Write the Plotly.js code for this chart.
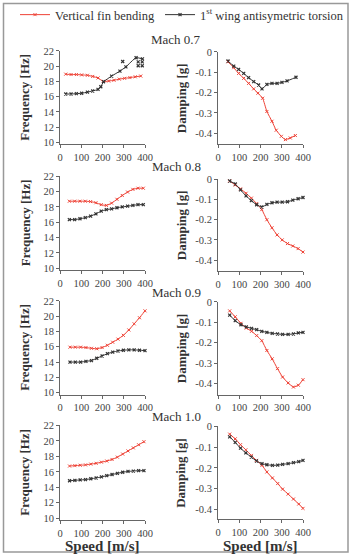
<!DOCTYPE html>
<html><head><meta charset="utf-8">
<script src="https://cdn.plot.ly/plotly-3.0.1.min.js"></script>
<style>html,body{margin:0;padding:0;background:#fff}#chart{width:351px;height:554px}</style>
</head><body><div id="chart"></div>
<script>
// ---- data ----
const machLabels = ["Mach 0.7", "Mach 0.8", "Mach 0.9", "Mach 1.0"];
const seriesNames = ["Vertical fin bending", "1<sup>st</sup> wing antisymetric torsion"];

// Mach 0.7
const m07_freq_fin_x = [27,52,77,102,129,154,179,204,229,254,279,304,329,354,380];
const m07_freq_fin_y = [18.95,18.9,18.9,18.85,18.8,18.65,18.45,18.0,18.05,18.15,18.3,18.4,18.5,18.6,18.7];
const m07_freq_wing_x = [27,52,77,102,129,154,179,192,205,243,282,310,358,388];
const m07_freq_wing_y = [16.35,16.35,16.4,16.45,16.6,16.75,16.95,17.3,17.95,18.7,19.35,19.9,21.1,20.95];
const m07_freq_wing_extra_x = [295,368,387,368,387];
const m07_freq_wing_extra_y = [20.6,20.55,20.55,20.05,20.05];
const m07_damp_fin_x = [47,74,97,121,144,168,188,210,230,254,274,298,317,340,364];
const m07_damp_fin_y = [-0.049,-0.078,-0.106,-0.13,-0.155,-0.182,-0.203,-0.228,-0.293,-0.341,-0.385,-0.415,-0.431,-0.423,-0.411];
const m07_damp_wing_x = [47,74,97,121,144,168,191,207,230,254,278,301,325,367];
const m07_damp_wing_y = [-0.045,-0.07,-0.086,-0.106,-0.127,-0.146,-0.163,-0.182,-0.16,-0.155,-0.155,-0.15,-0.143,-0.125];

// Mach 0.8
const m08_freq_x = [44,69,94,119,144,169,194,218,243,268,293,318,343,367,392];
const m08_freq_fin_y = [18.75,18.75,18.75,18.75,18.7,18.55,18.3,18.2,18.5,19.0,19.5,19.95,20.3,20.45,20.45];
const m08_freq_wing_y = [16.35,16.35,16.45,16.6,16.8,17.1,17.45,17.65,17.75,17.9,18.0,18.1,18.2,18.3,18.3];
const m08_damp_x = [55,81,106,132,157,182,206,230,254,278,302,327,352,377,400];
const m08_damp_fin_y = [-0.008,-0.028,-0.047,-0.069,-0.093,-0.12,-0.15,-0.2,-0.24,-0.275,-0.3,-0.318,-0.33,-0.343,-0.36];
const m08_damp_wing_y = [-0.008,-0.023,-0.052,-0.082,-0.105,-0.126,-0.137,-0.124,-0.116,-0.113,-0.113,-0.111,-0.103,-0.096,-0.09];

// Mach 0.9
const m09_freq_x = [47,72,97,122,148,173,198,223,248,273,298,324,349,374,400];
const m09_freq_fin_y = [15.95,15.95,15.95,15.9,15.8,15.75,15.9,16.2,16.6,17.0,17.5,18.2,19.0,19.8,20.7];
const m09_freq_wing_y = [14.0,14.0,14.0,14.1,14.2,14.5,14.8,15.1,15.3,15.45,15.55,15.6,15.6,15.55,15.5];
const m09_damp_x = [55,81,108,133,158,182,206,230,255,280,304,330,355,378,400];
const m09_damp_fin_y = [-0.044,-0.073,-0.105,-0.128,-0.144,-0.165,-0.19,-0.238,-0.279,-0.327,-0.368,-0.397,-0.417,-0.408,-0.381];
const m09_damp_wing_y = [-0.065,-0.092,-0.112,-0.122,-0.13,-0.136,-0.144,-0.149,-0.154,-0.157,-0.159,-0.159,-0.157,-0.152,-0.149];

// Mach 1.0
const m10_freq_x = [45,70,95,120,145,170,195,220,245,270,295,320,345,370,395];
const m10_freq_fin_y = [16.75,16.8,16.85,16.9,17.0,17.1,17.25,17.4,17.6,17.9,18.3,18.7,19.1,19.5,19.9];
const m10_freq_wing_y = [14.85,14.9,14.95,15.0,15.1,15.2,15.35,15.5,15.65,15.8,15.95,16.05,16.1,16.15,16.15];
const m10_damp_x = [55,81,106,131,157,181,207,230,256,281,304,330,355,380,400];
const m10_damp_fin_y = [-0.037,-0.06,-0.088,-0.113,-0.14,-0.164,-0.188,-0.22,-0.249,-0.276,-0.303,-0.327,-0.351,-0.375,-0.396];
const m10_damp_wing_y = [-0.05,-0.077,-0.105,-0.128,-0.148,-0.167,-0.18,-0.185,-0.188,-0.187,-0.183,-0.18,-0.175,-0.17,-0.164];

const xTicks = [0,100,200,300,400];
const freqTicks = [10,12,14,16,18,20,22];
const dampTicks = [0,-0.1,-0.2,-0.3,-0.4];
const dampTickText = ["0","-0.1","-0.2","-0.3","-0.4"];

// ---- build ----
const W = 351, H = 554;
const RED = "#ee4236", BLK = "#333333";
const FONT = "Liberation Serif";

const panels = [
  {fin:[m07_freq_fin_x,m07_freq_fin_y], wing:[m07_freq_wing_x,m07_freq_wing_y], extra:[m07_freq_wing_extra_x,m07_freq_wing_extra_y]},
  {fin:[m07_damp_fin_x,m07_damp_fin_y], wing:[m07_damp_wing_x,m07_damp_wing_y]},
  {fin:[m08_freq_x,m08_freq_fin_y], wing:[m08_freq_x,m08_freq_wing_y]},
  {fin:[m08_damp_x,m08_damp_fin_y], wing:[m08_damp_x,m08_damp_wing_y]},
  {fin:[m09_freq_x,m09_freq_fin_y], wing:[m09_freq_x,m09_freq_wing_y]},
  {fin:[m09_damp_x,m09_damp_fin_y], wing:[m09_damp_x,m09_damp_wing_y]},
  {fin:[m10_freq_x,m10_freq_fin_y], wing:[m10_freq_x,m10_freq_wing_y]},
  {fin:[m10_damp_x,m10_damp_fin_y], wing:[m10_damp_x,m10_damp_wing_y]}
];

// pixel geometry [top, bottom] of each plot area
const leftDom = [[49,143],[175,269],[300,394],[425,520]];
const rightDom = [[50,143],[178,270],[301,394],[426,519]];
const leftX = [60,145], rightX = [218,303];
const freqRange = [9.75,22];
const dampRanges = [[-0.455,0],[-0.454,0],[-0.454,0],[-0.448,0]];
const machY = [38,165.5,291.5,416.5];

const data = [];
const layout = {
  width: W, height: H,
  margin: {l:0,r:0,t:0,b:0},
  paper_bgcolor: "#fff", plot_bgcolor: "#fff",
  font: {family: FONT, color: "#333", size: 10},
  showlegend: true,
  legend: {orientation: "h", x: 15/W, xanchor: "left", y: 1 + 2/H, yanchor: "top",
           font: {size: 12.5, color: "#333", family: FONT}, itemwidth: 30, tracegroupgap: 0,
           bgcolor: "rgba(0,0,0,0)"},
  annotations: [], shapes: []
};

function px(x){return x/W;}
function py(y){return 1 - y/H;}

panels.forEach((p, i) => {
  const n = i + 1;
  const xa = n === 1 ? "x" : "x" + n;
  const ya = n === 1 ? "y" : "y" + n;
  const row = Math.floor(i/2), isLeft = (i % 2 === 0);
  const common = {type: "scatter", mode: "lines+markers", xaxis: xa, yaxis: ya, cliponaxis: false};
  data.push(Object.assign({}, common, {
    x: p.fin[0], y: p.fin[1], name: seriesNames[0], legendgroup: "fin", showlegend: i === 0,
    line: {color: RED, width: 1, shape: "spline", smoothing: 0.5},
    marker: {symbol: "x-thin", size: 3, color: RED, line: {color: RED, width: 1}}
  }));
  data.push(Object.assign({}, common, {
    x: p.wing[0], y: p.wing[1], name: seriesNames[1], legendgroup: "wing", showlegend: i === 0,
    line: {color: BLK, width: 1, shape: "spline", smoothing: 0.5},
    marker: {symbol: "x-thin", size: 3, color: BLK, line: {color: BLK, width: 1.2}}
  }));
  if (p.extra) {
    data.push({type: "scatter", mode: "markers", xaxis: xa, yaxis: ya, x: p.extra[0], y: p.extra[1],
      showlegend: false, cliponaxis: false,
      marker: {symbol: "x-thin", size: 3, color: BLK, line: {color: BLK, width: 1.2}}});
  }
  const dom = isLeft ? leftDom[row] : rightDom[row];
  const xd = isLeft ? leftX : rightX;
  const axKeyX = n === 1 ? "xaxis" : "xaxis" + n;
  const axKeyY = n === 1 ? "yaxis" : "yaxis" + n;
  layout[axKeyX] = {
    domain: [px(xd[0]), px(xd[1])], anchor: ya, range: [0, 400],
    tickvals: xTicks, ticktext: xTicks.map(String),
    showline: true, linecolor: "#666", linewidth: 1, ticks: "outside", ticklen: 3, tickcolor: "#666",
    showgrid: false, zeroline: false, tickfont: {size: 10.5, color: "#444", family: FONT}, fixedrange: true
  };
  layout[axKeyY] = {
    domain: [py(dom[1]), py(dom[0])], anchor: xa,
    range: isLeft ? freqRange : dampRanges[row],
    tickvals: isLeft ? freqTicks : dampTicks,
    ticktext: isLeft ? freqTicks.map(String) : dampTickText,
    showline: true, linecolor: "#666", linewidth: 1, ticks: "outside", ticklen: 3, tickcolor: "#666",
    showgrid: false, zeroline: false, tickfont: {size: 10.5, color: "#444", family: FONT}, fixedrange: true
  };
  layout.annotations.push({
    xref: "paper", yref: "paper", x: px(isLeft ? 25 : 181), y: py((dom[0]+dom[1])/2),
    text: isLeft ? "<b>Frequency [Hz]</b>" : "<b>Damping [g]</b>", textangle: -90,
    showarrow: false, font: {size: 13, color: "#333", family: FONT}, xanchor: "center", yanchor: "middle"
  });
  if (row === 3) {
    layout.annotations.push({
      xref: "paper", yref: "paper", x: px((xd[0]+xd[1])/2), y: py(546),
      text: "<b>Speed [m/s]</b>", showarrow: false, font: {size: 15, color: "#333", family: FONT},
      xanchor: "center", yanchor: "middle"
    });
  }
});

machLabels.forEach((m, r) => {
  layout.annotations.push({
    xref: "paper", yref: "paper", x: px(176), y: py(machY[r]), text: m, showarrow: false,
    font: {size: 13, color: "#333", family: FONT}, xanchor: "center", yanchor: "middle"
  });
});

layout.shapes.push({type: "rect", xref: "paper", yref: "paper",
  x0: px(3.5), x1: px(348), y0: py(552), y1: py(1.5), line: {color: "#999", width: 1.5}, fillcolor: "rgba(0,0,0,0)", layer: "below"});

Plotly.newPlot("chart", data, layout, {displayModeBar: false, staticPlot: true});
</script>
</body></html>
